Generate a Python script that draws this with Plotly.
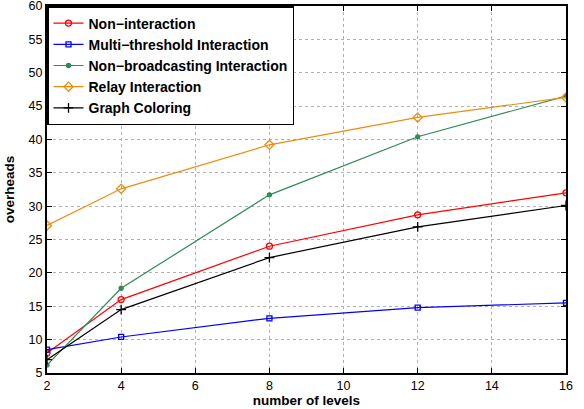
import plotly.graph_objects as go

levels = [2, 4, 8, 12, 16]
non_interaction = [8.0, 16.0, 24.0, 28.7, 32.0]
multi_threshold = [8.5, 10.4, 13.2, 14.8, 15.5]
non_broadcasting = [6.2, 17.7, 31.7, 40.4, 46.5]
relay = [27.1, 32.6, 39.2, 43.3, 46.3]
graph_coloring = [7.0, 14.5, 22.3, 26.9, 30.1]

series = [
    ("Non\u2212interaction", non_interaction, "#ff0000", "circle-open", 6),
    ("Multi\u2212threshold Interaction", multi_threshold, "#0000ff", "square-open", 5),
    ("Non\u2212broadcasting Interaction", non_broadcasting, "#2e8b57", "circle", 4),
    ("Relay Interaction", relay, "#ee8c10", "diamond-open", 7),
    ("Graph Coloring", graph_coloring, "#000000", "cross-thin-open", 7),
]

fig = go.Figure()
for name, vals, color, sym, size in series:
    fig.add_trace(go.Scatter(
        x=levels, y=vals, name=name, mode="lines+markers",
        line=dict(color=color, width=1.2),
        marker=dict(symbol=sym, size=size, color=color, line=dict(color=color, width=1.3)),
    ))

axis_common = dict(
    showline=True, linecolor="black", linewidth=2, mirror="ticks",
    ticks="inside", ticklen=5, tickcolor="black", tickwidth=1,
    showgrid=True, gridcolor="#b0b0b0", griddash="dot", gridwidth=1,
    zeroline=False, automargin=False, ticklabeloverflow="allow",
    tickfont=dict(size=12.5, color="black", family="Liberation Sans"),
)

fig.update_xaxes(range=[2, 16], tickvals=[2, 4, 6, 8, 10, 12, 14, 16],
                 title=dict(text="<b>number of levels</b>", font=dict(size=13.5, color="black", family="Liberation Sans"), standoff=0),
                 **axis_common)
fig.update_yaxes(range=[5, 60], tickvals=list(range(5, 61, 5)),
                 title=dict(text="<b>overheads</b>", font=dict(size=13.5, color="black", family="Liberation Sans"), standoff=11),
                 **axis_common)

fig.update_layout(
    width=584, height=409,
    margin=dict(l=47, r=18, t=6, b=36),
    paper_bgcolor="white", plot_bgcolor="white",
    font=dict(family="Liberation Sans", color="black"),
    legend=dict(
        x=0, y=1, xanchor="left", yanchor="top",
        bgcolor="white", bordercolor="black", borderwidth=1.5,
        font=dict(size=14, color="black", family="Liberation Sans", weight="bold"),
        tracegroupgap=0, itemwidth=30,
    ),
)

fig.write_html("out.html", config={"displayModeBar": False},
               post_script="document.body.style.margin='0';")
